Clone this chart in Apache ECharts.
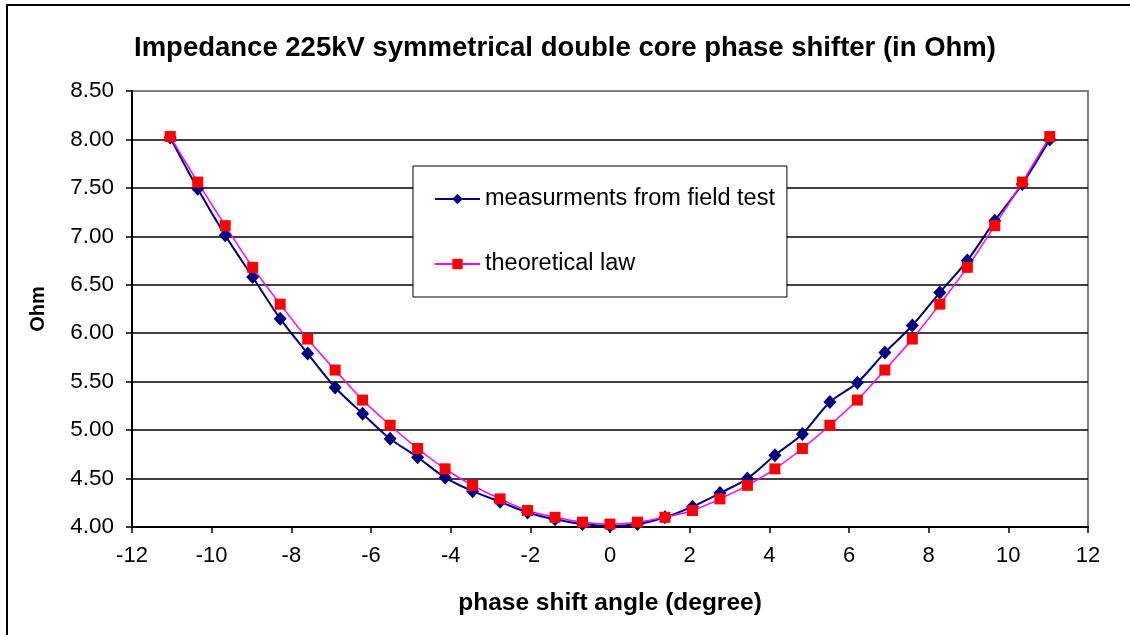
<!DOCTYPE html>
<html>
<head>
<meta charset="utf-8">
<script src="https://cdn.jsdelivr.net/npm/echarts@6/dist/echarts.min.js"></script>
<style>html,body{margin:0;padding:0;background:#fff;}#c{width:1130px;height:635px;}</style>
</head>
<body>
<div id="c"></div>
<script>
var angles = [-11.04,-10.35,-9.66,-8.97,-8.28,-7.59,-6.90,-6.21,-5.52,-4.83,-4.14,-3.45,-2.76,-2.07,-1.38,-0.69,0,
  0.69,1.38,2.07,2.76,3.45,4.14,4.83,5.52,6.21,6.90,7.59,8.28,8.97,9.66,10.35,11.04];
var measured = [8.02,7.49,7.01,6.58,6.15,5.79,5.44,5.17,4.91,4.72,4.51,4.37,4.26,4.15,4.08,4.03,4.01,
  4.03,4.10,4.21,4.35,4.50,4.74,4.96,5.29,5.49,5.80,6.08,6.42,6.75,7.16,7.54,8.00];
var theoretical = [8.03,7.56,7.11,6.68,6.30,5.94,5.62,5.31,5.05,4.81,4.60,4.43,4.29,4.17,4.10,4.05,4.03,
  4.05,4.10,4.17,4.29,4.43,4.60,4.81,5.05,5.31,5.62,5.94,6.30,6.68,7.11,7.56,8.03];
var seriesNames = ['measurments from field test', 'theoretical law'];
var titleText = 'Impedance 225kV symmetrical double core phase shifter (in Ohm)';

function pairs(xs, ys){ return xs.map(function(x,i){ return [x, ys[i]]; }); }
var FF = '"Liberation Sans", Arial, sans-serif';
var chart = echarts.init(document.getElementById('c'));
chart.setOption({
  animation: false,
  backgroundColor: '#fff',
  textStyle: {fontFamily: FF, color: '#000'},
  title: {text: titleText, left: 'center', top: 29,
    textStyle: {fontFamily: FF, fontSize: 27.5, fontWeight: 'bold', color: '#000'}},
  graphic: [
    {type: 'line', shape: {x1: 6, y1: 5, x2: 1130, y2: 5}, style: {stroke: '#000', lineWidth: 2}, silent: true},
    {type: 'line', shape: {x1: 7, y1: 4, x2: 7, y2: 635}, style: {stroke: '#000', lineWidth: 2}, silent: true}
  ],
  legend: {
    orient: 'vertical', left: 413, top: 166,
    backgroundColor: '#fff', borderColor: '#000', borderWidth: 1,
    padding: [21, 12, 21, 21], itemGap: 41, itemWidth: 45, itemHeight: 13,
    textStyle: {fontFamily: FF, fontSize: 23.5, color: '#000', lineHeight: 24},
    data: seriesNames
  },
  grid: {left: 132, right: 42, top: 91, bottom: 108, show: true, borderColor: '#808080', borderWidth: 2, backgroundColor: '#fff'},
  xAxis: {
    type: 'value', min: -12, max: 12, interval: 2,
    name: 'phase shift angle (degree)', nameLocation: 'middle', nameGap: 64,
    nameTextStyle: {fontFamily: FF, fontSize: 24.5, fontWeight: 'bold', color: '#000'},
    axisLine: {onZero: false, lineStyle: {color: '#000', width: 2}},
    axisTick: {show: true, inside: false, length: 6, lineStyle: {color: '#000', width: 1.5}},
    axisLabel: {fontFamily: FF, fontSize: 22, color: '#000', margin: 18},
    splitLine: {show: false}
  },
  yAxis: {
    type: 'value', min: 4, max: 8.5, interval: 0.5,
    name: 'Ohm', nameLocation: 'middle', nameGap: 84, nameRotate: 90,
    nameTextStyle: {fontFamily: FF, fontSize: 20, fontWeight: 'bold', color: '#000'},
    axisLine: {show: true, onZero: false, lineStyle: {color: '#000', width: 2}},
    axisTick: {show: true, inside: false, length: 6, lineStyle: {color: '#000', width: 1.5}},
    axisLabel: {fontFamily: FF, fontSize: 22.5, color: '#000', margin: 18,
      formatter: function(v){ return v.toFixed(2); }},
    splitLine: {show: true, showMaxLine: false, lineStyle: {color: '#000', width: 1.5}}
  },
  series: [
    {name: seriesNames[0], type: 'line', data: pairs(angles, measured), smooth: 0.3,
      symbol: 'diamond', symbolSize: [13, 14], showAllSymbol: true,
      lineStyle: {color: '#000080', width: 2}, itemStyle: {color: '#000080'}},
    {name: seriesNames[1], type: 'line', data: pairs(angles, theoretical), smooth: 0.3,
      symbol: 'rect', symbolSize: 11, showAllSymbol: true,
      lineStyle: {color: '#FF00FF', width: 1.5}, itemStyle: {color: '#FF0000'}}
  ]
});
</script>
</body>
</html>
